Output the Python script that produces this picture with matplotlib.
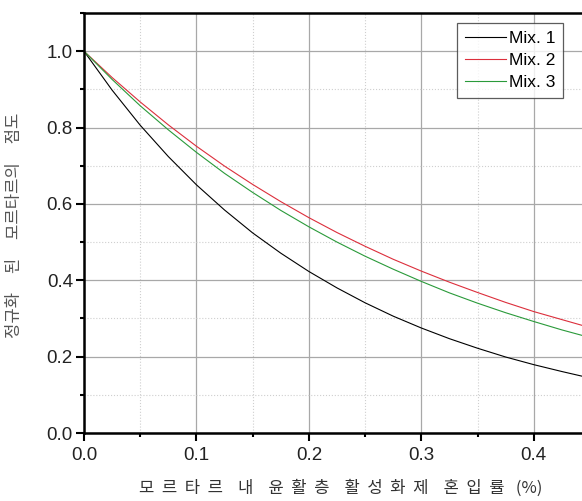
import matplotlib
matplotlib.use('Agg')
import matplotlib.pyplot as plt
from matplotlib.ticker import MultipleLocator

plt.rcParams['font.family'] = ['Liberation Sans', 'Noto Sans CJK KR', 'DejaVu Sans']

# 혼입률 (%)
x = [0.0, 0.025, 0.05, 0.075, 0.1, 0.125, 0.15, 0.175, 0.2, 0.225,
     0.25, 0.275, 0.3, 0.325, 0.35, 0.375, 0.4, 0.425, 0.45]
mix1 = [1.0, 0.898, 0.806, 0.724, 0.650, 0.584, 0.524, 0.471, 0.423, 0.380,
        0.341, 0.306, 0.275, 0.247, 0.222, 0.199, 0.179, 0.161, 0.144]
mix2 = [1.0, 0.931, 0.867, 0.807, 0.751, 0.699, 0.651, 0.606, 0.564, 0.525,
        0.489, 0.455, 0.424, 0.395, 0.368, 0.342, 0.318, 0.297, 0.276]
mix3 = [1.0, 0.926, 0.857, 0.794, 0.735, 0.680, 0.630, 0.583, 0.540, 0.500,
        0.463, 0.429, 0.397, 0.367, 0.340, 0.315, 0.292, 0.270, 0.250]

fig = plt.figure(figsize=(5.82, 5.01), dpi=100)
W, H = 582, 501
AW, AH = 590 - 84, 433 - 13
# axes: left 84px, top 13px, bottom 433px, right runs past the image edge
ax = fig.add_axes([84 / W, (H - 433) / H, AW / W, AH / H])

ax.plot(x, mix1, color='black', lw=0.8, label='Mix. 1')
ax.plot(x, mix2, color='#dc2f3c', lw=0.8, label='Mix. 2')
ax.plot(x, mix3, color='#2a9a3a', lw=0.8, label='Mix. 3')

ax.set_xlim(0, 0.45)
ax.set_ylim(0, 1.1)
ax.xaxis.set_minor_locator(MultipleLocator(0.05))
ax.yaxis.set_minor_locator(MultipleLocator(0.1))
ax.set_xticks([0.0, 0.1, 0.2, 0.3, 0.4])
ax.set_xticklabels(['0.0', '0.1', '0.2', '0.3', '0.4'])
ax.set_yticks([0.0, 0.2, 0.4, 0.6, 0.8, 1.0])
ax.set_yticklabels(['0.0', '0.2', '0.4', '0.6', '0.8', '1.0'])

ax.grid(which='major', color='#a8a8a8', lw=0.9, ls='-')
ax.grid(which='minor', color='#cfcfcf', lw=0.8, ls=':')
ax.set_axisbelow(True)

for s in ['left', 'bottom', 'top']:
    ax.spines[s].set_linewidth(1.8)
ax.spines['right'].set_visible(False)
ax.tick_params(which='major', direction='out', length=6, width=1.5,
               labelsize=13.5, colors='black', labelcolor='#222222')
ax.tick_params(which='minor', direction='out', length=3, width=1.5)
ax.tick_params(axis='y', pad=2)
ax.tick_params(axis='x', pad=4)

ko = ['Noto Sans CJK KR', 'DejaVu Sans']
sp = '    '
ax.set_xlabel('모  르  타  르' + sp + '내' + sp + '윤  활  층' + sp
              + '활  성  화  제' + sp + '혼  입  률' + sp[:3] + '(%)',
              fontsize=12, family=ko, color='#333333', va='center')
ax.xaxis.set_label_coords((341 - 84) / AW, -(488 - 433) / AH)
sp = '     '
ax.set_ylabel('정규화' + sp + '된' + sp + '모르타르의' + sp + '점도',
              fontsize=12, family=ko, color='#555555', va='center')
ax.yaxis.set_label_coords(-(84 - 15) / AW, (433 - 225) / AH)

leg = ax.legend(loc='upper left', bbox_to_anchor=((457 - 84) / AW, (433 - 23) / AH),
                fontsize=12.5, frameon=True, fancybox=False, borderpad=0.45,
                labelspacing=0.4, handlelength=2.4, handletextpad=0.15,
                borderaxespad=0)
leg.get_frame().set_edgecolor('#333333')
leg.get_frame().set_linewidth(0.9)

fig.savefig('out.png', dpi=100)
